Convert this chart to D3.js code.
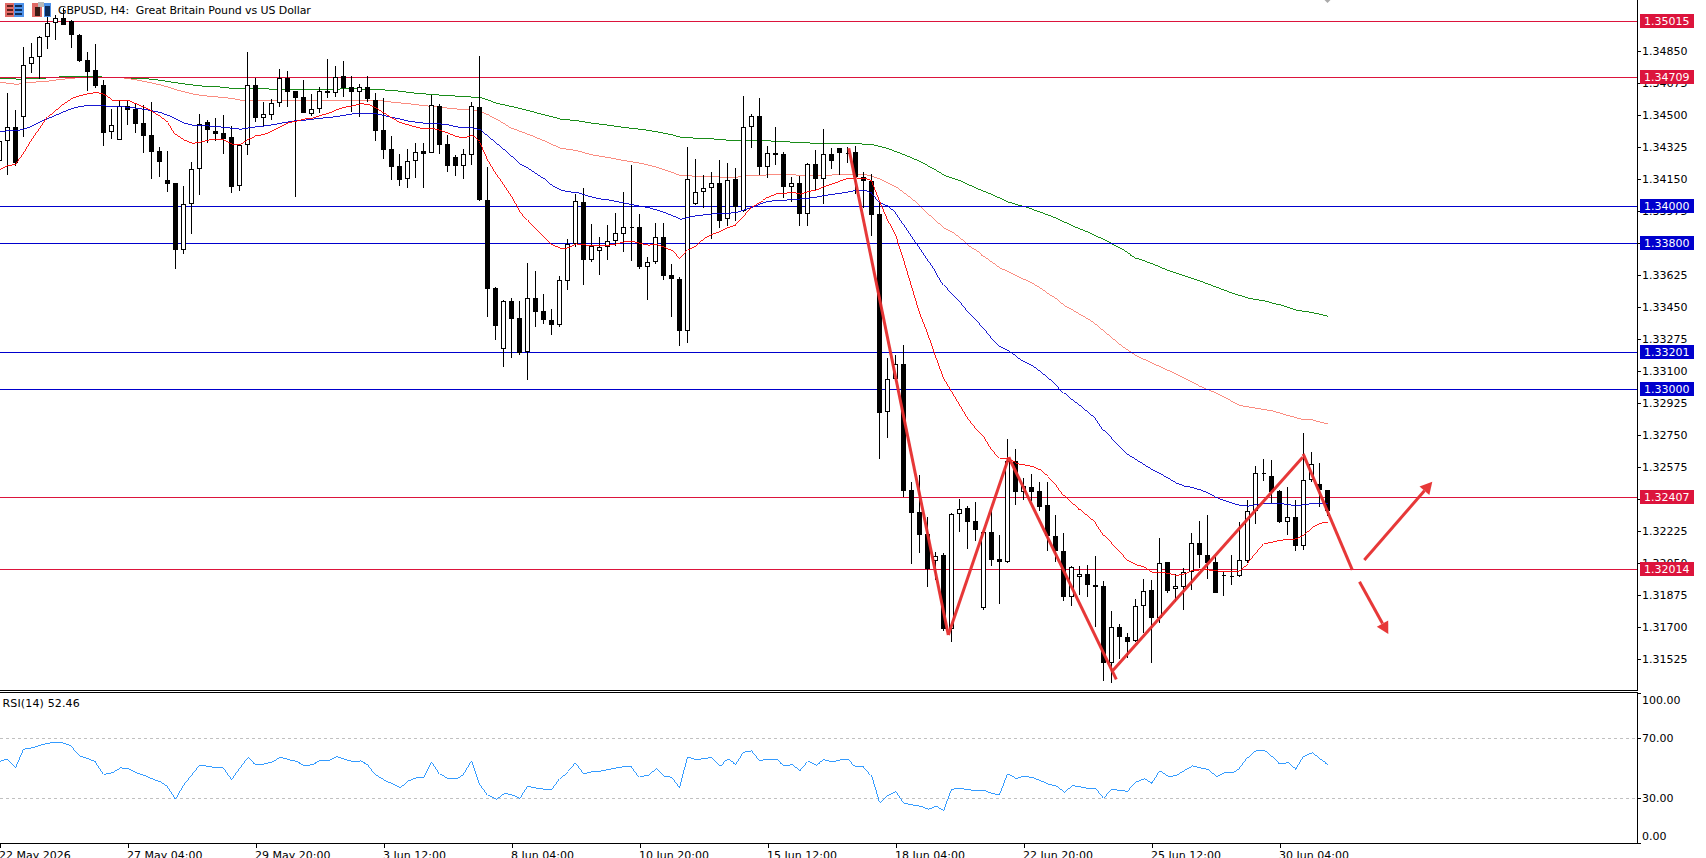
<!DOCTYPE html>
<html>
<head>
<meta charset="utf-8">
<title>GBPUSD H4</title>
<script src="https://cdn.jsdelivr.net/npm/d3@7/dist/d3.min.js"></script>
<style>
  html, body { margin: 0; padding: 0; background: #fff; overflow: hidden; }
  svg { display: block; }
  text { font-family: "DejaVu Sans", sans-serif; font-size: 11px; fill: #000; }
  .crisp { shape-rendering: crispEdges; }
</style>
</head>
<body>
<svg id="chart" width="1706" height="858"></svg>
<script>
// H4 candles; position 0 in each array is bar -1, the one cut by the left edge.
const firstBar = -1;
const opens = [1.34252,1.34358,1.34435,1.34490,1.34780,1.34818,1.34928,1.35004,1.35032,1.35019,1.34939,1.34802,1.34747,1.34665,1.34407,1.34364,1.34552,1.34535,1.34459,1.34391,1.34305,1.34145,1.34130,1.33765,1.34013,1.34205,1.34462,1.34415,1.34402,1.34382,1.34112,1.34336,1.34665,1.34484,1.34504,1.34566,1.34707,1.34634,1.34599,1.34510,1.34533,1.34634,1.34625,1.34714,1.34654,1.34630,1.34654,1.34584,1.34418,1.34314,1.34223,1.34154,1.34249,1.34303,1.34292,1.34552,1.34342,1.34271,1.34225,1.34285,1.34544,1.34037,1.33555,1.33223,1.33484,1.33389,1.33206,1.33500,1.33429,1.33380,1.33352,1.33595,1.33796,1.34024,1.33708,1.33759,1.33778,1.33814,1.33853,1.33889,1.33889,1.33672,1.33699,1.33834,1.33624,1.33604,1.33321,1.34013,1.34079,1.34101,1.34128,1.33931,1.34152,1.33975,1.34435,1.34495,1.34219,1.34292,1.34287,1.34110,1.34128,1.33962,1.34232,1.34154,1.34287,1.34320,1.34296,1.34298,1.34161,1.34143,1.33960,1.32874,1.33055,1.33137,1.32448,1.32327,1.32208,1.32059,1.32094,1.31690,1.32316,1.32349,1.32278,1.31805,1.32219,1.32070,1.32053,1.32606,1.32435,1.32466,1.32444,1.32367,1.32198,1.32114,1.31864,1.31971,1.31989,1.31927,1.31924,1.31499,1.31697,1.31643,1.31624,1.31812,1.31900,1.31750,1.32053,1.31906,1.31920,1.32002,1.32159,1.32095,1.32055,1.31984,1.31980,1.31977,1.32062,1.32332,1.32539,1.32526,1.32444,1.32276,1.32301,1.32144,1.32504,1.32482,1.32449];
const highs = [1.34402,1.34621,1.34530,1.34876,1.34895,1.34935,1.35041,1.35050,1.35086,1.35022,1.34946,1.34845,1.34891,1.34694,1.34533,1.34584,1.34581,1.34563,1.34557,1.34572,1.34329,1.34305,1.34130,1.34114,1.34243,1.34506,1.34473,1.34484,1.34502,1.34442,1.34344,1.34847,1.34705,1.34575,1.34590,1.34752,1.34743,1.34636,1.34694,1.34617,1.34654,1.34807,1.34771,1.34798,1.34716,1.34672,1.34716,1.34625,1.34594,1.34387,1.34289,1.34314,1.34347,1.34347,1.34612,1.34563,1.34393,1.34283,1.34314,1.34572,1.34825,1.34219,1.33562,1.33489,1.33502,1.33484,1.33690,1.33648,1.33520,1.33438,1.33621,1.33823,1.34070,1.34101,1.33905,1.33832,1.33898,1.33966,1.34079,1.34229,1.33960,1.33723,1.33909,1.33911,1.33686,1.33613,1.34325,1.34260,1.34172,1.34188,1.34256,1.34240,1.34212,1.34606,1.34508,1.34594,1.34334,1.34435,1.34302,1.34161,1.34168,1.34238,1.34309,1.34426,1.34320,1.34322,1.34329,1.34333,1.34188,1.34177,1.34020,1.33170,1.33188,1.33243,1.32491,1.32532,1.32300,1.32110,1.32103,1.32323,1.32400,1.32362,1.32382,1.32221,1.32340,1.32203,1.32729,1.32674,1.32513,1.32537,1.32491,1.32495,1.32313,1.32212,1.32033,1.32033,1.32039,1.32088,1.31951,1.31787,1.31716,1.31665,1.31853,1.31962,1.31957,1.32187,1.32055,1.31989,1.32021,1.32212,1.32280,1.32313,1.32081,1.32002,1.32094,1.32271,1.32394,1.32581,1.32619,1.32613,1.32449,1.32464,1.32394,1.32761,1.32654,1.32597,1.32449];
const lows = [1.34219,1.34174,1.34225,1.34384,1.34734,1.34698,1.34866,1.34913,1.34997,1.34871,1.34794,1.34636,1.34648,1.34334,1.34373,1.34364,1.34448,1.34406,1.34292,1.34152,1.34165,1.34081,1.33661,1.33741,1.33853,1.34066,1.34351,1.34362,1.34291,1.34077,1.34088,1.34283,1.34466,1.34442,1.34475,1.34548,1.34548,1.34055,1.34515,1.34499,1.34511,1.34594,1.34603,1.34599,1.34521,1.34493,1.34575,1.34362,1.34261,1.34146,1.34114,1.34103,1.34157,1.34103,1.34292,1.34289,1.34190,1.34168,1.34152,1.34229,1.34033,1.33398,1.33270,1.33123,1.33170,1.33188,1.33051,1.33343,1.33358,1.33300,1.33343,1.33544,1.33781,1.33571,1.33696,1.33626,1.33708,1.33785,1.33752,1.33705,1.33659,1.33489,1.33686,1.33599,1.33398,1.33239,1.33256,1.34010,1.33991,1.33823,1.33884,1.33896,1.33924,1.33971,1.34323,1.34174,1.34159,1.34229,1.34050,1.34028,1.33895,1.33896,1.34092,1.34015,1.34208,1.34176,1.34238,1.34070,1.33991,1.33842,1.32617,1.32735,1.33051,1.32412,1.32041,1.32106,1.31920,1.31957,1.31674,1.31619,1.32221,1.32126,1.32167,1.31789,1.32030,1.31825,1.32048,1.32369,1.32395,1.32386,1.32331,1.32117,1.32057,1.31843,1.31816,1.31874,1.31865,1.31701,1.31405,1.31391,1.31524,1.31528,1.31619,1.31668,1.31504,1.31723,1.31884,1.31833,1.31792,1.31902,1.32021,1.31964,1.31882,1.31869,1.31929,1.31971,1.32048,1.32263,1.32498,1.32376,1.32270,1.32203,1.32112,1.32121,1.32493,1.32358,1.32307];
const closes = [1.34358,1.34435,1.34241,1.34778,1.34822,1.34928,1.35004,1.35032,1.34997,1.34939,1.34798,1.34740,1.34663,1.34406,1.34446,1.34553,1.34530,1.34455,1.34389,1.34302,1.34247,1.34126,1.33765,1.34013,1.34205,1.34455,1.34422,1.34400,1.34373,1.34110,1.34336,1.34665,1.34488,1.34510,1.34566,1.34703,1.34630,1.34597,1.34515,1.34533,1.34632,1.34625,1.34712,1.34652,1.34630,1.34654,1.34588,1.34417,1.34312,1.34219,1.34146,1.34249,1.34302,1.34291,1.34555,1.34340,1.34225,1.34225,1.34287,1.34550,1.34037,1.33551,1.33349,1.33482,1.33385,1.33201,1.33498,1.33425,1.33380,1.33352,1.33599,1.33796,1.34030,1.33708,1.33783,1.33778,1.33814,1.33854,1.33887,1.33885,1.33670,1.33699,1.33832,1.33623,1.33606,1.33321,1.34150,1.34079,1.34101,1.34128,1.33924,1.34145,1.33997,1.34435,1.34495,1.34219,1.34292,1.34285,1.34110,1.34128,1.33962,1.34234,1.34154,1.34287,1.34252,1.34296,1.34294,1.34165,1.34143,1.33957,1.32872,1.33055,1.33137,1.32445,1.32325,1.32203,1.32017,1.32086,1.31690,1.32316,1.32344,1.32276,1.32227,1.32219,1.32068,1.32052,1.32606,1.32435,1.32473,1.32440,1.32358,1.32194,1.32112,1.31860,1.32026,1.31988,1.31926,1.31920,1.31499,1.31697,1.31646,1.31619,1.31811,1.31898,1.31750,1.32048,1.31898,1.31922,1.32002,1.32157,1.32095,1.32048,1.31882,1.31980,1.31973,1.32064,1.32332,1.32540,1.32540,1.32440,1.32276,1.32300,1.32144,1.32502,1.32590,1.32446,1.32336];

// Moving averages: the fast two hold one value per bar, the slow two are [bar, price] pairs.
const maFast = [1.34201,1.34225,1.34232,1.34292,1.34365,1.34429,1.34493,1.34530,1.34566,1.34594,1.34608,1.34619,1.34625,1.34615,1.34584,1.34581,1.34581,1.34563,1.34544,1.34521,1.34493,1.34460,1.34393,1.34365,1.34347,1.34353,1.34365,1.34369,1.34365,1.34342,1.34340,1.34369,1.34387,1.34396,1.34415,1.34438,1.34460,1.34469,1.34480,1.34484,1.34499,1.34511,1.34530,1.34544,1.34552,1.34563,1.34561,1.34539,1.34511,1.34484,1.34460,1.34448,1.34435,1.34426,1.34429,1.34417,1.34402,1.34384,1.34376,1.34391,1.34356,1.34256,1.34183,1.34123,1.34055,1.33979,1.33927,1.33882,1.33836,1.33791,1.33772,1.33774,1.33796,1.33791,1.33787,1.33787,1.33789,1.33796,1.33807,1.33811,1.33798,1.33789,1.33794,1.33778,1.33758,1.33718,1.33763,1.33787,1.33827,1.33849,1.33864,1.33887,1.33900,1.33946,1.34000,1.34024,1.34052,1.34070,1.34073,1.34079,1.34068,1.34083,1.34092,1.34110,1.34125,1.34141,1.34156,1.34157,1.34156,1.34141,1.34030,1.33928,1.33846,1.33709,1.33563,1.33417,1.33307,1.33180,1.33061,1.32988,1.32915,1.32842,1.32787,1.32741,1.32668,1.32623,1.32623,1.32595,1.32586,1.32577,1.32559,1.32522,1.32477,1.32418,1.32376,1.32340,1.32303,1.32267,1.32198,1.32157,1.32112,1.32062,1.32039,1.32026,1.31997,1.31997,1.31993,1.31980,1.31989,1.32008,1.32011,1.32011,1.32006,1.32000,1.32000,1.32006,1.32048,1.32102,1.32154,1.32163,1.32174,1.32177,1.32181,1.32203,1.32245,1.32267,1.32272];
const maMid = [1.34411,1.34415,1.34415,1.34426,1.34442,1.34466,1.34484,1.34502,1.34521,1.34539,1.34548,1.34555,1.34555,1.34552,1.34548,1.34548,1.34544,1.34539,1.34533,1.34524,1.34515,1.34499,1.34479,1.34457,1.34446,1.34444,1.34442,1.34438,1.34435,1.34429,1.34424,1.34431,1.34437,1.34442,1.34448,1.34457,1.34464,1.34471,1.34473,1.34479,1.34484,1.34488,1.34493,1.34500,1.34508,1.34511,1.34511,1.34508,1.34499,1.34488,1.34479,1.34469,1.34462,1.34457,1.34455,1.34453,1.34448,1.34437,1.34431,1.34431,1.34420,1.34384,1.34347,1.34311,1.34274,1.34232,1.34210,1.34179,1.34152,1.34114,1.34092,1.34081,1.34079,1.34064,1.34052,1.34042,1.34037,1.34028,1.34019,1.34011,1.34002,1.33995,1.33982,1.33968,1.33951,1.33931,1.33942,1.33951,1.33955,1.33960,1.33960,1.33964,1.33968,1.33982,1.33997,1.34015,1.34028,1.34035,1.34035,1.34039,1.34042,1.34046,1.34052,1.34061,1.34068,1.34073,1.34081,1.34090,1.34090,1.34073,1.34022,1.34001,1.33964,1.33901,1.33837,1.33773,1.33709,1.33645,1.33572,1.33526,1.33481,1.33426,1.33380,1.33335,1.33280,1.33234,1.33212,1.33180,1.33152,1.33129,1.33097,1.33061,1.33024,1.32979,1.32942,1.32909,1.32873,1.32836,1.32772,1.32732,1.32687,1.32641,1.32614,1.32586,1.32559,1.32537,1.32513,1.32486,1.32470,1.32462,1.32449,1.32431,1.32407,1.32391,1.32376,1.32365,1.32360,1.32369,1.32376,1.32376,1.32374,1.32369,1.32362,1.32369,1.32374,1.32374,1.32374];
const maSlow = [[-1,1.34681],[0,1.34676],[1,1.34670],[2,1.34676],[3,1.34681],[4,1.34685],[5,1.34688],[6,1.34694],[7,1.34699],[8,1.34703],[9,1.34707],[10,1.34709],[11,1.34709],[14,1.34707],[15,1.34701],[16,1.34694],[17,1.34685],[18,1.34676],[19,1.34667],[20,1.34654],[21,1.34639],[22,1.34628],[23,1.34617],[24,1.34610],[25,1.34605],[26,1.34601],[27,1.34597],[28,1.34592],[29,1.34583],[30,1.34581],[39,1.34581],[46,1.34584],[47,1.34577],[48,1.34572],[50,1.34564],[52,1.34553],[54,1.34544],[56,1.34535],[58,1.34530],[59,1.34521],[60,1.34502],[61,1.34479],[62,1.34453],[63,1.34429],[64,1.34411],[65,1.34396],[66,1.34378],[67,1.34360],[68,1.34340],[69,1.34320],[70,1.34314],[71,1.34307],[73,1.34283],[75,1.34269],[77,1.34252],[79,1.34238],[81,1.34216],[83,1.34187],[84,1.34170],[86,1.34167],[88,1.34163],[91,1.34161],[92,1.34168],[94,1.34172],[97,1.34177],[99,1.34172],[102,1.34170],[104,1.34177],[107,1.34177],[108,1.34165],[109,1.34151],[110,1.34129],[111,1.34107],[112,1.34074],[113,1.34041],[114,1.34001],[115,1.33959],[116,1.33919],[117,1.33882],[118,1.33860],[119,1.33828],[120,1.33787],[121,1.33760],[122,1.33727],[123,1.33694],[124,1.33663],[125,1.33645],[126,1.33623],[127,1.33603],[128,1.33581],[129,1.33554],[130,1.33523],[131,1.33495],[132,1.33459],[133,1.33435],[134,1.33408],[135,1.33384],[136,1.33353],[137,1.33316],[138,1.33280],[139,1.33243],[140,1.33212],[141,1.33183],[143,1.33143],[145,1.33103],[147,1.33061],[149,1.33015],[151,1.32979],[153,1.32933],[154,1.32911],[156,1.32896],[158,1.32882],[160,1.32856],[162,1.32832],[163,1.32832],[164,1.32820],[165,1.32809]];
const maLong = [[-1,1.34703],[0,1.34701],[1,1.34699],[2,1.34699],[3,1.34701],[4,1.34703],[5,1.34705],[6,1.34709],[7,1.34712],[8,1.34714],[10,1.34714],[11,1.34712],[12,1.34709],[14,1.34705],[16,1.34703],[18,1.34698],[20,1.34685],[22,1.34672],[24,1.34661],[26,1.34657],[28,1.34648],[31,1.34645],[35,1.34643],[39,1.34643],[43,1.34645],[46,1.34641],[48,1.34637],[51,1.34621],[53,1.34614],[55,1.34608],[57,1.34603],[59,1.34597],[60,1.34584],[61,1.34566],[63,1.34548],[65,1.34526],[67,1.34502],[69,1.34480],[71,1.34471],[73,1.34457],[75,1.34446],[77,1.34433],[79,1.34424],[81,1.34411],[83,1.34393],[84,1.34380],[86,1.34375],[88,1.34371],[90,1.34364],[94,1.34364],[96,1.34358],[99,1.34351],[101,1.34347],[104,1.34345],[106,1.34345],[107,1.34342],[108,1.34340],[110,1.34317],[112,1.34284],[114,1.34247],[116,1.34198],[117,1.34171],[119,1.34141],[121,1.34101],[123,1.34065],[125,1.34025],[127,1.34001],[129,1.33970],[131,1.33937],[133,1.33895],[135,1.33860],[137,1.33818],[139,1.33773],[141,1.33718],[143,1.33687],[145,1.33650],[147,1.33621],[149,1.33592],[151,1.33559],[153,1.33526],[155,1.33499],[157,1.33484],[159,1.33462],[161,1.33433],[163,1.33420],[165,1.33400]];

// RSI(14), one value per bar, same ordering as the candles.
const rsiValues = [54.5,56.2,50.3,62.8,63.7,65.4,66.7,67.4,66.7,64.5,58.2,56.4,54.0,46.0,47.0,50.3,49.7,47.0,45.3,42.9,40.9,37.6,29.3,38.7,45.3,52.1,51.2,50.5,50.1,42.5,49.7,56.9,52.3,52.9,54.3,57.5,55.8,54.7,51.9,52.3,54.9,54.9,57.8,56.0,54.5,54.9,52.3,45.5,42.0,39.6,37.2,41.6,43.8,43.8,54.3,46.0,43.1,43.1,46.0,54.9,39.4,32.0,29.3,33.3,32.2,29.6,37.9,36.8,36.1,35.5,43.1,47.9,53.6,46.4,47.9,48.1,49.2,50.3,51.2,51.2,44.4,45.5,49.7,44.6,44.0,37.2,57.5,55.6,56.7,57.1,51.6,56.0,52.5,60.8,61.7,55.1,56.2,56.2,51.9,52.3,48.1,54.5,52.1,55.6,54.3,55.6,55.6,51.0,51.2,45.3,27.4,32.2,34.8,26.7,25.6,24.7,22.8,24.7,21.5,36.1,36.6,35.7,35.2,35.2,33.1,32.4,46.2,43.1,44.6,43.8,41.8,39.4,38.1,34.1,38.5,37.6,36.6,36.6,30.0,35.9,35.2,34.6,40.9,43.1,39.8,48.1,44.4,45.3,48.6,51.6,50.3,49.2,44.4,47.0,47.0,50.1,57.5,62.1,61.9,57.8,52.9,53.8,49.0,58.2,60.4,56.0,52.46];
const rsiLevels = [30, 70];
const rsiTicks = [0, 30, 70, 100];
const rsiTitle = "RSI(14) 52.46";

// Horizontal support and resistance levels.
const redLevels = [1.35015, 1.34709, 1.32407, 1.32014];
const blueLevels = [1.34000, 1.33800, 1.33201, 1.33000];

// Price axis and time axis labels.
const priceTicks = [1.34850,1.34675,1.34500,1.34325,1.34150,1.33975,1.33800,1.33625,1.33450,1.33275,1.33100,1.32925,1.32750,1.32575,1.32400,1.32225,1.32050,1.31875,1.31700,1.31525];
const timeTickBars = [-1,15,31,47,63,79,95,111,127,143,159];
const timeTickLabels = ["22 May 2026","27 May 04:00","29 May 20:00","3 Jun 12:00","8 Jun 04:00","10 Jun 20:00","15 Jun 12:00","18 Jun 04:00","22 Jun 20:00","25 Jun 12:00","30 Jun 04:00"];
const chartTitle = "GBPUSD, H4:  Great Britain Pound vs US Dollar";

// Hand-drawn wave annotation, [bar, price] end points of each stroke.
const waveStrokes = [
  [[105.16,1.34320],[117.6,1.31655]],
  [[117.6,1.31655],[125.16,1.32628]],
  [[125.16,1.32628],[138.6,1.31412]],
  [[138,1.31452],[161.9,1.32628]],
  [[161.96,1.32646],[168.1,1.32011]]
];
const arrowStrokes = [
  [[169.6,1.32065],[178.1,1.32494]],
  [[169.0,1.31946],[172.6,1.31660]]
];

const W = 1706, H = 858, axisX = 1637;
const mainBottom = 690, rsiTop = 692, rsiBottom = 843;

const x = d3.scaleLinear().domain([0, 1]).range([7.5, 15.5]);
const yPrice = d3.scaleLinear().domain([1.351316, 1.313535]).range([0, mainBottom]);
const yRsi = d3.scaleLinear().domain([0, 100]).range([rsiBottom + 0.3, 693.3]);
const rowOf = v => Math.floor(v) + 0.5;

const svg = d3.select("#chart");
const bars = opens.map((o, i) => ({
  bar: i + firstBar, open: o, high: highs[i], low: lows[i], close: closes[i], rsi: rsiValues[i],
  fast: maFast[i], mid: maMid[i]
}));

// Thin aliased moving-average strokes.
const maLine = d3.line().x(d => x(d[0])).y(d => yPrice(d[1]));
const drawAverages = series => svg.append("g").attr("class", "crisp").selectAll("path").data(series).join("path")
  .attr("d", d => maLine(d.pts)).attr("fill", "none").attr("stroke", d => d.color).attr("stroke-width", 0.9);

// The two slow averages run beneath the level lines.
drawAverages([
  { pts: maLong, color: "#008000" },
  { pts: maSlow, color: "#fa8072" }
]);

// Level lines sit behind the candles.
const levels = [
  ...redLevels.map(v => ({ v, color: "#dc143c" })),
  ...blueLevels.map(v => ({ v, color: "#0000cd" }))
];
svg.append("g").attr("class", "crisp").selectAll("line").data(levels).join("line")
  .attr("x1", 0).attr("x2", axisX)
  .attr("y1", d => rowOf(yPrice(d.v))).attr("y2", d => rowOf(yPrice(d.v)))
  .attr("stroke", d => d.color);

// Candles: one-pixel wick, five-pixel body.
const candles = svg.append("g").attr("class", "crisp");
candles.selectAll("line").data(bars).join("line")
  .attr("x1", d => rowOf(x(d.bar))).attr("x2", d => rowOf(x(d.bar)))
  .attr("y1", d => Math.round(yPrice(d.high))).attr("y2", d => Math.round(yPrice(d.low)))
  .attr("stroke", "#000");
candles.selectAll("path").data(bars).join("path")
  .attr("d", d => {
    const top = Math.round(yPrice(Math.max(d.open, d.close)));
    const bottom = Math.round(yPrice(Math.min(d.open, d.close)));
    const h = Math.max(0, bottom - top - 1);
    return `M${rowOf(x(d.bar)) - 2},${top + 0.5}h4v${h}h-4Z`;
  })
  .attr("fill", d => d.close >= d.open ? "#fff" : "#000")
  .attr("stroke", "#000");

// The two fast averages run over the candles.
drawAverages([
  { pts: bars.map(d => [d.bar, d.mid]), color: "#0000cd" },
  { pts: bars.map(d => [d.bar, d.fast]), color: "#ff0000" }
]);

// Wave and arrow annotations.
const strokeColor = "#e62e2e";
const notes = svg.append("g").attr("opacity", 0.95);
const strokeLine = d3.line().x(d => x(d[0])).y(d => yPrice(d[1]));
notes.selectAll(".wave").data(waveStrokes).join("path").attr("class", "wave")
  .attr("d", strokeLine).attr("fill", "none").attr("stroke", strokeColor).attr("stroke-width", 3);
arrowStrokes.forEach(([from, to]) => {
  const x0 = x(from[0]), y0 = yPrice(from[1]), x1 = x(to[0]), y1 = yPrice(to[1]);
  const len = Math.hypot(x1 - x0, y1 - y0), ux = (x1 - x0) / len, uy = (y1 - y0) / len;
  const bx = x1 - ux * 12, by = y1 - uy * 12;
  notes.append("line").attr("x1", x0).attr("y1", y0).attr("x2", bx).attr("y2", by)
    .attr("stroke", strokeColor).attr("stroke-width", 3);
  notes.append("polygon").attr("fill", strokeColor)
    .attr("points", [[x1, y1], [bx - uy * 6.5, by + ux * 6.5], [bx + uy * 6.5, by - ux * 6.5]].join(" "));
});

// Small grey marker at the top edge above the last bar.
svg.append("path").attr("fill", "#aaa")
  .attr("d", `M${x(165) - 3},0h6l-3,3Z`);

// Pane frames.
const frame = svg.append("g").attr("class", "crisp").attr("stroke", "#000");
frame.append("line").attr("x1", 0).attr("x2", axisX + 1).attr("y1", mainBottom + 0.5).attr("y2", mainBottom + 0.5);
frame.append("line").attr("x1", 0).attr("x2", axisX + 1).attr("y1", rsiTop + 0.5).attr("y2", rsiTop + 0.5);
frame.append("line").attr("x1", 0).attr("x2", axisX + 1).attr("y1", rsiBottom + 0.5).attr("y2", rsiBottom + 0.5);
frame.append("line").attr("x1", axisX + 0.5).attr("x2", axisX + 0.5).attr("y1", 0).attr("y2", mainBottom + 1);
frame.append("line").attr("x1", axisX + 0.5).attr("x2", axisX + 0.5).attr("y1", rsiTop).attr("y2", rsiBottom + 1);

// Price axis.
const priceAxis = svg.append("g").attr("class", "crisp")
  .attr("transform", `translate(${axisX},0)`)
  .call(d3.axisRight(yPrice).tickValues(priceTicks).tickFormat(d3.format(".5f")).tickSize(4).tickPadding(1));
priceAxis.select(".domain").remove();
priceAxis.attr("font-family", null).attr("font-size", null);

// Value tags on the axis for each level.
const tags = svg.append("g").selectAll("g").data(levels).join("g")
  .attr("transform", d => `translate(1640,${Math.floor(yPrice(d.v)) - 7})`);
tags.append("rect").attr("class", "crisp").attr("width", 54).attr("height", 14).attr("fill", d => d.color);
tags.append("text").attr("x", 4).attr("y", 11).style("fill", "#fff").text(d => d3.format(".5f")(d.v));

// RSI pane.
svg.append("g").attr("class", "crisp").selectAll("line").data(rsiLevels).join("line")
  .attr("x1", 0).attr("x2", axisX)
  .attr("y1", d => rowOf(yRsi(d))).attr("y2", d => rowOf(yRsi(d)))
  .attr("stroke", "#c0c0c0").attr("stroke-dasharray", "3,3");
svg.append("path").attr("class", "crisp")
  .attr("d", d3.line().x(d => x(d.bar)).y(d => yRsi(d.rsi))(bars))
  .attr("fill", "none").attr("stroke", "#1e90ff").attr("stroke-width", 0.9);
svg.append("text").attr("x", 2.5).attr("y", 707).style("letter-spacing", "0.15px").text(rsiTitle);

const rsiAxis = svg.append("g").attr("class", "crisp")
  .attr("transform", `translate(${axisX},0)`)
  .call(d3.axisRight(yRsi).tickValues(rsiTicks).tickFormat(d3.format(".2f")).tickSize(4).tickPadding(1));
rsiAxis.select(".domain").remove();
rsiAxis.attr("font-family", null).attr("font-size", null);
rsiAxis.selectAll("text")
  .attr("dy", d => d === 100 ? "0.95em" : d === 0 ? "-0.32em" : "0.32em");

// Time axis; labels start at the tick and run off the bottom edge.
const timeAxis = svg.append("g").attr("class", "crisp")
  .attr("transform", `translate(0,${rsiBottom})`)
  .call(d3.axisBottom(x).tickValues(timeTickBars).tickFormat((d, i) => timeTickLabels[i]).tickSize(5));
timeAxis.select(".domain").remove();
timeAxis.attr("font-family", null).attr("font-size", null);
timeAxis.selectAll("text").attr("text-anchor", "start").attr("x", -1).attr("y", 16).attr("dy", 0);

// Toolbar icons and title in the top-left corner.
const icons = [
  [5,3,9,14,"#e06a66"],[14,3,10,14,"#4d90e8"],
  [7,5,6,2,"#5c1f1c"],[7,9,6,2,"#5c1f1c"],[7,13,6,2,"#5c1f1c"],
  [15,5,7,2,"#0f2c59"],[15,9,7,2,"#0f2c59"],[15,13,7,2,"#0f2c59"],
  [32,3,10,14,"#e06a66"],[44,3,7,14,"#4d90e8"],
  [35,7,5,9,"#3a1a14"],[38,2,6,5,"#b8b8b8"],[45,6,5,10,"#0f2c59"]
];
svg.append("g").attr("class", "crisp").selectAll("rect").data(icons).join("rect")
  .attr("x", d => d[0]).attr("y", d => d[1]).attr("width", d => d[2]).attr("height", d => d[3]).attr("fill", d => d[4]);
svg.append("text").attr("x", 58).attr("y", 14).style("white-space", "pre").style("letter-spacing", "-0.1px").text(chartTitle);
</script>
</body>
</html>
